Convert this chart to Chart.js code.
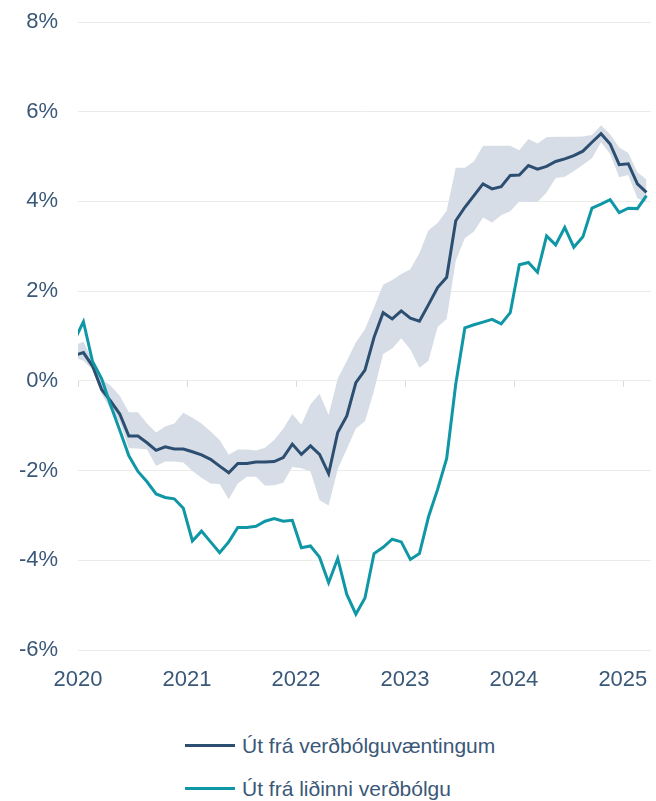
<!DOCTYPE html>
<html>
<head>
<meta charset="utf-8">
<script src="https://cdn.jsdelivr.net/npm/chart.js@4.4.1/dist/chart.umd.min.js"></script>
<style>
  html, body { margin: 0; padding: 0; background: #fff; }
  #wrap { position: relative; width: 656px; height: 801px; }
  #chart { position: absolute; left: 0; top: 0; }
  #legend {
    position: absolute; left: 185px; top: 724px;
    font-family: "Liberation Sans", Arial, sans-serif; font-size: 21px; color: #3a5878;
  }
  .item { display: flex; align-items: center; height: 43px; white-space: nowrap; }
  .swatch { width: 50px; height: 3px; margin-right: 7px; }
</style>
</head>
<body>
<div id="wrap">
  <canvas id="chart" width="656" height="700"></canvas>
  <div id="legend"></div>
</div>
<script>
// Months from Dec 2019 (partly outside the plot, clipped) to Mar 2025
const firstMonth = { year: 2019, month: 12 }
const tickYears = ["2020", "2021", "2022", "2023", "2024", "2025"]
const yTicks = [-6, -4, -2, 0, 2, 4, 6, 8]

// Út frá verðbólguvæntingum
const expectationsRate = [
  0.57, 0.63, 0.33, -0.19, -0.45, -0.74, -1.23, -1.23, -1.38, -1.55, -1.47, -1.52, -1.52,
  -1.58, -1.65, -1.75, -1.90, -2.05, -1.84, -1.84, -1.81, -1.81, -1.80, -1.71, -1.41,
  -1.64, -1.45, -1.64, -2.07, -1.15, -0.78, -0.04, 0.24, 0.97, 1.52, 1.38, 1.56,
  1.40, 1.33, 1.70, 2.08, 2.31, 3.57, 3.87, 4.13, 4.39, 4.28, 4.33, 4.58,
  4.59, 4.80, 4.72, 4.78, 4.89, 4.95, 5.02, 5.12, 5.32, 5.51, 5.28, 4.82,
  4.84, 4.39, 4.20
]

// Út frá liðinni verðbólgu
const pastInflationRate = [
  0.90, 1.32, 0.43, 0.05, -0.55, -1.10, -1.67, -2.02, -2.25, -2.52, -2.60, -2.63, -2.84,
  -3.57, -3.35, -3.59, -3.83, -3.59, -3.27, -3.27, -3.24, -3.13, -3.07, -3.13, -3.11,
  -3.72, -3.68, -3.93, -4.50, -3.96, -4.76, -5.20, -4.84, -3.85, -3.71, -3.53, -3.59,
  -3.98, -3.85, -3.03, -2.42, -1.73, -0.07, 1.18, 1.25, 1.31, 1.37, 1.27, 1.52,
  2.59, 2.64, 2.42, 3.23, 3.03, 3.42, 2.98, 3.21, 3.85, 3.94, 4.04, 3.75,
  3.85, 3.84, 4.13
]

// Range band around the expectations-based rate
const bandUpper = [
  0.78, 0.88, 0.45, 0.04, -0.11, -0.33, -0.70, -0.70, -0.95, -1.15, -1.02, -0.95, -0.71,
  -0.82, -0.95, -1.13, -1.32, -1.65, -1.53, -1.53, -1.55, -1.49, -1.32, -1.07, -0.74,
  -0.98, -0.52, -0.29, -0.76, 0.05, 0.44, 0.86, 1.15, 1.64, 2.14, 2.25, 2.38,
  2.49, 2.85, 3.36, 3.52, 3.79, 4.75, 4.75, 4.89, 5.24, 5.24, 5.24, 5.24,
  5.14, 5.39, 5.29, 5.43, 5.44, 5.44, 5.44, 5.45, 5.48, 5.70, 5.50, 5.20,
  5.08, 4.65, 4.49
]
const bandLower = [
  0.52, 0.45, 0.25, -0.30, -0.63, -0.93, -1.50, -1.51, -1.53, -1.90, -1.80, -1.80, -1.82,
  -2.01, -2.16, -2.29, -2.30, -2.64, -2.29, -2.14, -2.14, -2.34, -2.33, -2.27, -1.92,
  -1.95, -2.02, -2.66, -2.78, -1.97, -1.52, -1.06, -0.90, -0.22, 0.60, 0.72, 0.95,
  0.70, 0.29, 0.45, 1.20, 1.38, 2.68, 3.18, 3.33, 3.64, 3.53, 3.69, 3.78,
  4.00, 3.99, 3.99, 4.20, 4.52, 4.55, 4.67, 4.82, 4.96, 5.32, 5.06, 4.54,
  4.59, 4.07, 3.98
]

const labelColor = "#3a5878"
const darkBlue = "#2c4e70"
const teal = "#0f97a6"
const bandColor = "#d6dde6"
const gridColor = "#ebebeb"
const clear = "rgba(0,0,0,0)"
const axisFont = { family: "'Liberation Sans', Arial, sans-serif", size: 22 }

// observations sit a little past the start of each month
const pointOffset = 0.6
const monthPos = (i) => (firstMonth.year - 2020) * 12 + (firstMonth.month - 1) + i + pointOffset
const toPoints = (arr) => arr.map((v, i) => ({ x: monthPos(i), y: v }))

// short year ticks hanging off the zero line
const yearTicks = {
  id: "yearTicks",
  beforeDatasetsDraw(chart) {
    const { ctx, scales } = chart
    const y0 = scales.y.getPixelForValue(0)
    ctx.save()
    ctx.strokeStyle = "#d9d9d9"
    ctx.lineWidth = 1
    scales.x.ticks.forEach((t) => {
      const px = Math.round(scales.x.getPixelForValue(t.value)) + 0.5
      ctx.beginPath()
      ctx.moveTo(px, y0)
      ctx.lineTo(px, y0 + 6)
      ctx.stroke()
    })
    ctx.restore()
  },
}

const chart = new Chart(document.getElementById("chart"), {
  type: "line",
  data: {
    datasets: [
      {
        label: "Út frá liðinni verðbólgu",
        data: toPoints(pastInflationRate),
        borderColor: teal,
        borderWidth: 3,
        pointRadius: 0,
        tension: 0,
        clip: 0,
        order: 0,
      },
      {
        label: "Út frá verðbólguvæntingum",
        data: toPoints(expectationsRate),
        borderColor: darkBlue,
        borderWidth: 3,
        pointRadius: 0,
        tension: 0,
        clip: 0,
        order: 1,
      },
      {
        label: "band-lower",
        data: toPoints(bandLower),
        borderWidth: 0,
        borderColor: clear,
        pointRadius: 0,
        fill: false,
        clip: 0,
        order: 3,
      },
      {
        label: "band-upper",
        data: toPoints(bandUpper),
        borderWidth: 0,
        borderColor: clear,
        backgroundColor: bandColor,
        pointRadius: 0,
        fill: "-1",
        clip: 0,
        order: 2,
      },
    ],
  },
  options: {
    responsive: false,
    animation: false,
    layout: { padding: { top: 22, right: 5, bottom: 0, left: 0 } },
    plugins: {
      legend: { display: false },
      tooltip: { enabled: false },
      filler: { propagate: false },
    },
    scales: {
      x: {
        type: "linear",
        min: 0,
        max: 63.1,
        afterBuildTicks: (scale) => {
          scale.ticks = tickYears.map((_, i) => ({ value: i * 12 }))
        },
        afterFit: (scale) => {
          scale.height = 50
        },
        // invisible tick marks give the label gap without adding edge padding
        grid: { color: clear, tickColor: clear, drawTicks: true, tickLength: 17 },
        border: { display: false },
        ticks: {
          color: labelColor,
          font: axisFont,
          padding: 0,
          maxRotation: 0,
          autoSkip: false,
          callback: (value) => tickYears[Math.round(value / 12)],
        },
      },
      y: {
        min: -6,
        max: 8,
        afterBuildTicks: (scale) => {
          scale.ticks = yTicks.map((v) => ({ value: v }))
        },
        afterFit: (scale) => {
          scale.width = 78
        },
        grid: { color: gridColor, lineWidth: 1, tickColor: clear, drawTicks: true, tickLength: 20 },
        border: { display: false },
        ticks: {
          color: labelColor,
          font: axisFont,
          padding: 0,
          callback: (value) => value + "%",
        },
      },
    },
  },
  plugins: [yearTicks],
})

// legend below the chart, one row per line series
const legend = document.getElementById("legend")
;[chart.data.datasets[1], chart.data.datasets[0]].forEach((ds) => {
  const item = document.createElement("div")
  item.className = "item"
  item.innerHTML = `<span class="swatch" style="background:${ds.borderColor}"></span><span>${ds.label}</span>`
  legend.appendChild(item)
})
</script>
</body>
</html>
